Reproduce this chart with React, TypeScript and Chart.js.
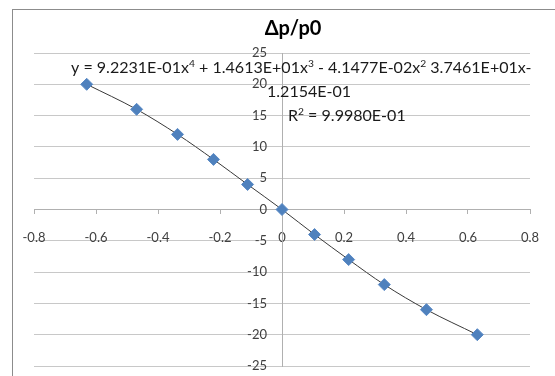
import React, { useEffect, useRef } from "react";
import { Chart, registerables } from "chart.js";

Chart.register(...registerables);

// ---- data ----
const xValues = [-0.63, -0.469, -0.337, -0.221, -0.111, 0, 0.105, 0.215, 0.33, 0.466, 0.63];
const yValues = [20, 16, 12, 8, 4, 0, -4, -8, -12, -16, -20];
const xTickValues = [-0.8, -0.6, -0.4, -0.2, 0, 0.2, 0.4, 0.6, 0.8];
const yTickValues = [-25, -20, -15, -10, -5, 0, 5, 10, 15, 20, 25];
const titleText = "Δp/p0";
// [text, isSuperscript]
const equationLine1: [string, boolean][] = [
  ["y = 9.2231E-01x", false], ["4", true],
  [" + 1.4613E+01x", false], ["3", true],
  [" - 4.1477E-02x", false], ["2", true],
  [" 3.7461E+01x-", false],
];
const equationLine2: [string, boolean][] = [["1.2154E-01", false]];
const equationLine3: [string, boolean][] = [["R", false], ["2", true], [" = 9.9980E-01", false]];

const FONT = "Lato, 'Noto Sans', sans-serif";

function richWidth(ctx: CanvasRenderingContext2D, segs: [string, boolean][], size: number) {
  let w = 0;
  for (const [t, sup] of segs) {
    ctx.font = `${sup ? size * 0.64 : size}px ${FONT}`;
    w += ctx.measureText(t).width;
  }
  return w;
}

function drawRich(ctx: CanvasRenderingContext2D, segs: [string, boolean][], x: number, baseline: number, size: number) {
  let cx = x;
  for (const [t, sup] of segs) {
    const fs = sup ? size * 0.64 : size;
    ctx.font = `${fs}px ${FONT}`;
    ctx.fillText(t, cx, sup ? baseline - size * 0.38 : baseline);
    cx += ctx.measureText(t).width;
  }
}

const decorPlugin = {
  id: "decor",
  beforeDraw(chart: any) {
    const { ctx, width, height } = chart;
    ctx.save();
    ctx.fillStyle = "#ffffff";
    ctx.fillRect(0, 0, width, height);
    ctx.strokeStyle = "#8c8c8c";
    ctx.lineWidth = 1;
    ctx.strokeRect(12.5, 9.5, width + 20, height + 20);
    ctx.restore();
  },
  afterDraw(chart: any) {
    const { ctx } = chart;
    ctx.save();
    ctx.fillStyle = "#000000";
    ctx.textAlign = "center";
    ctx.textBaseline = "alphabetic";
    ctx.font = `bold 20px ${FONT}`;
    ctx.fillText(titleText, 293, 35);
    ctx.textAlign = "left";
    ctx.fillStyle = "#1a1a1a";
    // fit the first equation line to its width in the reference (x 71 -> 532)
    const w = richWidth(ctx, equationLine1, 15);
    const size = Math.max(13, Math.min(17, 15 * 461 / w));
    drawRich(ctx, equationLine1, 71, 73, size);
    drawRich(ctx, equationLine2, 267, 97, size);
    drawRich(ctx, equationLine3, 288, 121, size);
    ctx.restore();
  },
};

export default function App() {
  const canvasRef = useRef<HTMLCanvasElement | null>(null);

  useEffect(() => {
    document.body.style.margin = "0";
    const canvas = canvasRef.current;
    if (!canvas) return;
    const points = xValues.map((x, i) => ({ x, y: yValues[i] }));
    const chart = new Chart(canvas, {
      type: "scatter",
      data: {
        datasets: [
          {
            data: points,
            pointStyle: "rectRot",
            pointRadius: 6,
            pointHoverRadius: 6,
            backgroundColor: "#4F81BD",
            borderColor: "#5A8AC6",
            borderWidth: 1,
            showLine: false,
          },
          {
            data: points,
            showLine: true,
            pointRadius: 0,
            borderColor: "#3a3a3a",
            borderWidth: 1,
            cubicInterpolationMode: "monotone",
            fill: false,
          },
        ],
      } as any,
      options: {
        animation: false,
        responsive: false,
        devicePixelRatio: 1,
        layout: { padding: { left: 34, right: 25, top: 53, bottom: 10 } },
        plugins: {
          legend: { display: false },
          tooltip: { enabled: false },
          title: { display: false },
        },
        scales: {
          x: {
            type: "linear",
            position: { y: 0 } as any,
            min: -0.8,
            max: 0.8,
            afterBuildTicks: (axis: any) => {
              axis.ticks = xTickValues.map((v) => ({ value: v }));
            },
            ticks: {
              padding: 14,
              color: "#404040",
              font: { family: FONT, size: 13, lineHeight: 1.65 },
              callback: (v: any) => String(Math.round(Number(v) * 10) / 10),
              maxRotation: 0,
            },
            grid: { drawOnChartArea: false, drawTicks: true, tickLength: 4, color: "#b0b0b0" },
            border: { display: true, color: "#b0b0b0" },
          },
          y: {
            type: "linear",
            position: "center",
            min: -25,
            max: 25,
            afterBuildTicks: (axis: any) => {
              axis.ticks = yTickValues.map((v) => ({ value: v }));
            },
            ticks: {
              padding: 0,
              color: "#404040",
              font: { family: FONT, size: 13 },
            },
            grid: { drawOnChartArea: true, drawTicks: true, tickLength: 15, color: "#c8c8c8" },
            border: { display: true, color: "#b0b0b0" },
          },
        },
      } as any,
      plugins: [decorPlugin],
    });
    return () => chart.destroy();
  }, []);

  return <canvas ref={canvasRef} width={555} height={376} style={{ display: "block", width: 555, height: 376 }} />;
}
